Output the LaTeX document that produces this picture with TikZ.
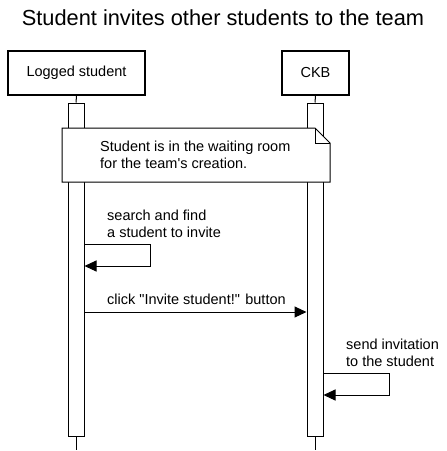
\documentclass[tikz,border=0pt]{standalone}
\usepackage{fontspec}
\setmainfont{Liberation Sans}
\usetikzlibrary{arrows.meta}

\tikzset{
  actor/.style={draw, line width=2pt, minimum height=44pt, inner sep=0pt, font=\fontsize{14.5}{17}\selectfont},
  activ/.style={draw, fill=white, line width=1pt, minimum width=16pt, minimum height=333pt, inner sep=0pt},
  msg/.style={line width=1pt, -{Triangle[length=12pt,width=11pt]}},
  lbl/.style={anchor=base west, align=left, inner sep=0pt, font=\fontsize{14.5}{16.5}\selectfont}
}

\begin{document}
\begin{tikzpicture}[x=1pt,y=-1pt]
\useasboundingbox (0,0) rectangle (447,451);

\node[anchor=base, font=\fontsize{21.8}{26}\selectfont] (title) at (223,25) {Student invites other students to the team};

% participants
\node[actor, minimum width=137pt] (ls) at (76.5,73) {Logged student};
\node[actor, minimum width=67pt] (ckb) at (315.5,73) {CKB};

% lifelines
\coordinate (lsend) at (76,450);
\coordinate (ckbend) at (315,450);
\node[activ] (la) at (76,269.5) {};
\node[activ] (ca) at (315,269.5) {};
\draw[line width=1pt] (ls.south) -- (la.north);
\draw[line width=1pt] (ckb.south) -- (ca.north);
\draw[line width=1pt] (la.south) -- (lsend);
\draw[line width=1pt] (ca.south) -- (ckbend);

% note
\draw[line width=1pt, fill=white] (62,128) -- (315,128) -- (330,143) -- (330,182) -- (62,182) -- cycle;
\draw[line width=1pt] (315,128) -- (315,143) -- (330,143);
\node[lbl] (note) at (100,168) {Student is in the waiting room\\for the team\textquotesingle s creation.};

% messages
\draw[msg] (la.east |- 0,244) -- (150,244) -- (150,266) -- (la.east |- 0,266);
\node[lbl] (m1) at (107,237) {search and find\\a student to invite};

\draw[msg] (la.east |- 0,312) -- (ca.west |- 0,312);
\node[lbl] (m2) at (107,304) {click \textquotedbl Invite student!\textquotedbl{} button};

\draw[msg] (ca.east |- 0,373) -- (389,373) -- (389,395) -- (ca.east |- 0,395);
\node[lbl] (m3) at (346,366) {send invitation\\to the student};
\end{tikzpicture}
\end{document}
